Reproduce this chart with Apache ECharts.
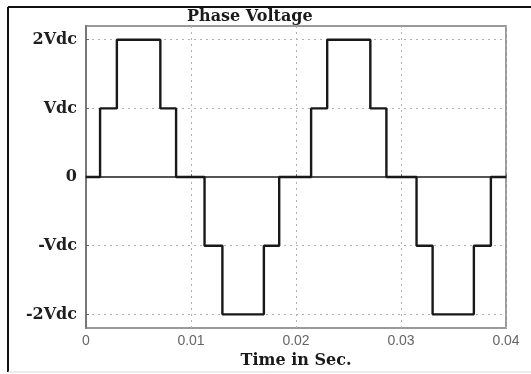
<!DOCTYPE html>
<html>
<head>
<meta charset="utf-8">
<script src="https://cdn.jsdelivr.net/npm/echarts@6/dist/echarts.min.js"></script>
<style>
  html, body { margin: 0; padding: 0; background: #fff; }
  #chart { width: 531px; height: 374px; }
</style>
</head>
<body>
<div id="chart"></div>
<script>
// Five-level staircase phase voltage, two 50 Hz cycles.
// Each switching instant (s) starts a new level (in units of Vdc).
const switchTimes = [0, 0.00134, 0.00294, 0.00708, 0.00858, 0.01129, 0.01299, 0.01694, 0.0184,
                     0.02144, 0.02297, 0.02708, 0.02861, 0.03148, 0.03301, 0.03694, 0.03856, 0.04];
const levels      = [0, 1, 2, 1, 0, -1, -2, -1, 0,
                     1, 2, 1, 0, -1, -2, -1, 0, 0];

const yTickValues = [-2, -1, 0, 1, 2];
const yTickLabels = ['-2Vdc', '-Vdc', '0', 'Vdc', '2Vdc'];

const points = switchTimes.map((t, i) => [t, levels[i]]);

const serifBold = { fontFamily: 'DejaVu Serif', fontWeight: 'bold' };

const chart = echarts.init(document.getElementById('chart'), null, { renderer: 'canvas' });
chart.setOption({
  animation: false,
  backgroundColor: '#fff',
  title: {
    text: 'Phase Voltage',
    left: 187,
    top: 9,
    padding: 0,
    textStyle: Object.assign({ fontSize: 16, color: '#1a1a1a' }, serifBold)
  },
  grid: {
    left: 86, right: 25, top: 26, bottom: 40,
    show: true,
    borderColor: '#9a9a9a',
    borderWidth: 2
  },
  xAxis: {
    type: 'value',
    min: 0,
    max: 0.04,
    interval: 0.01,
    name: 'Time in Sec.',
    nameLocation: 'middle',
    nameGap: 18,
    nameTextStyle: Object.assign({ fontSize: 16, color: '#1a1a1a' }, serifBold),
    axisLine: { show: true, lineStyle: { color: '#555', width: 2 } },
    axisTick: { show: true, inside: true, length: 3, lineStyle: { color: '#666' } },
    axisLabel: {
      margin: 6,
      fontFamily: 'Liberation Sans',
      fontSize: 14,
      color: '#666',
      formatter: v => String(+v.toFixed(2))
    },
    splitLine: { show: true, lineStyle: { color: '#b0b0b0', type: [2, 4], width: 1 } }
  },
  yAxis: {
    type: 'value',
    min: -2.2,
    max: 2.2,
    axisLine: { show: true, lineStyle: { color: '#777', width: 2 } },
    axisTick: { show: true, inside: true, length: 3, customValues: yTickValues, lineStyle: { color: '#666' } },
    axisLabel: Object.assign({
      customValues: yTickValues,
      margin: 9,
      fontSize: 16,
      color: '#1f1f1f',
      formatter: v => yTickLabels[yTickValues.indexOf(Math.round(v))]
    }, serifBold),
    splitLine: { show: true, lineStyle: { color: '#b0b0b0', type: [2, 4], width: 1 } }
  },
  series: [{
    type: 'line',
    step: 'end',
    data: points,
    showSymbol: false,
    lineStyle: { color: '#181818', width: 2.4 }
  }],
  graphic: [
    // outer frame: dark left and top edges, faint bottom edge
    { type: 'line', shape: { x1: 8, y1: 7, x2: 531, y2: 7 }, style: { stroke: '#111', lineWidth: 2 } },
    { type: 'line', shape: { x1: 8, y1: 7, x2: 8, y2: 372 }, style: { stroke: '#111', lineWidth: 2 } },
    { type: 'line', shape: { x1: 8, y1: 372, x2: 531, y2: 372 }, style: { stroke: '#d8d8d8', lineWidth: 1 } }
  ]
});
</script>
</body>
</html>
